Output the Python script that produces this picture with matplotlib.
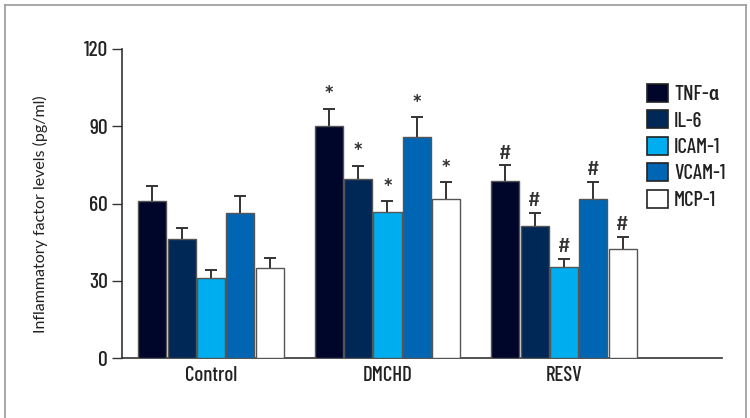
import matplotlib
matplotlib.use("Agg")
import matplotlib.pyplot as plt
import numpy as np
from matplotlib.lines import Line2D

groups = ["Control", "DMCHD", "RESV"]
series = ["TNF-α", "IL-6", "ICAM-1", "VCAM-1", "MCP-1"]
colors = ["#00052a", "#002857", "#00aeef", "#0066b3", "#ffffff"]
means = {
    "TNF-α":  [60.8, 90.1, 68.9],
    "IL-6":   [46.3, 69.4, 51.3],
    "ICAM-1": [31.1, 56.6, 35.2],
    "VCAM-1": [56.4, 85.9, 61.7],
    "MCP-1":  [34.9, 61.9, 42.5],
}
errors = {
    "TNF-α":  [6.0, 6.6, 5.9],
    "IL-6":   [4.0, 5.2, 5.0],
    "ICAM-1": [3.2, 4.2, 3.4],
    "VCAM-1": [6.4, 7.5, 6.8],
    "MCP-1":  [4.1, 6.3, 4.4],
}
marks = ["", "*", "#"]

plt.rcParams['font.family'] = ['Barlow Condensed', 'Roboto Condensed', 'DejaVu Sans']
plt.rcParams['font.weight'] = 'medium'

fig = plt.figure(figsize=(7.5, 4.18), dpi=100)
ax = fig.add_axes([122/750, 1-358/418, 600/750, 309/418])

x = np.arange(len(groups))
step = 0.166
width = 0.159
for i, s in enumerate(series):
    pos = x + (i - 2) * step
    m = np.array(means[s])
    e = np.array(errors[s])
    ax.bar(pos, m, width=width, color=colors[i], edgecolor="#555555",
           linewidth=1.0, label=s, zorder=3)
    ax.vlines(pos, m, m + e, color="#333333", linewidth=1.4, zorder=2)
    ax.plot(pos, m + e, linestyle="none", marker="_", markersize=8,
            markeredgewidth=1.4, color="#333333", zorder=2)
    for j in range(len(groups)):
        if marks[j]:
            ax.annotate(marks[j], (pos[j], m[j] + e[j]), xytext=(0, 2), textcoords="offset points",
                        ha="center", va="bottom", fontsize=17 if marks[j] == "*" else 15,
                        color="#333333")

ax.set_xlim(-0.504, 2.895)
ax.set_ylim(0, 120)
ax.set_yticks([0, 30, 60, 90, 120])
ax.set_xticks(x)
ax.set_xticklabels(groups, fontsize=15)
ax.tick_params(axis="x", length=0, pad=6, colors="#222222")
ax.tick_params(axis="y", length=7, width=1.0, labelsize=15.5, pad=3, colors="#333333")
for lab in ax.get_yticklabels() + ax.get_xticklabels():
    lab.set_color("#222222")
for sp in ["top", "right"]:
    ax.spines[sp].set_visible(False)
for sp in ["left", "bottom"]:
    ax.spines[sp].set_color("#333333")
    ax.spines[sp].set_linewidth(1.2)

ax.set_ylabel("Inflammatory factor levels (pg/ml)", fontsize=11.5, color="#222222",
              family=["Lato", "DejaVu Sans"], fontweight="normal")
ax.yaxis.set_label_coords(-0.124, 0.466)

leg = ax.legend(loc="upper left", bbox_to_anchor=(647/750, 1-84/418),
                bbox_transform=fig.transFigure, frameon=False, fontsize=15,
                handlelength=1.0, handleheight=0.95, handletextpad=0.3,
                labelspacing=0.3, borderpad=0, borderaxespad=0)
for h in leg.legend_handles:
    h.set_edgecolor("#222222")
    h.set_linewidth(1.2)
for t in leg.get_texts():
    t.set_color("#222222")

fc = "#999999"
fig.add_artist(Line2D([5/750, 5/750], [0, 1-5/418], transform=fig.transFigure, color=fc, lw=1.2))
fig.add_artist(Line2D([5/750, 746/750], [1-5/418, 1-5/418], transform=fig.transFigure, color=fc, lw=1.2))
fig.add_artist(Line2D([746/750, 746/750], [0, 1-5/418], transform=fig.transFigure, color=fc, lw=1.2))

fig.savefig("out.png", dpi=100)
